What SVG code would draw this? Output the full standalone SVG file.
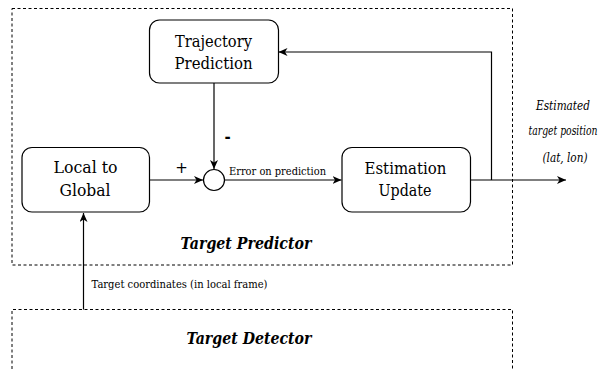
<svg xmlns="http://www.w3.org/2000/svg" width="603" height="371" viewBox="0 0 603 371">
<defs>
<marker id="ah" markerWidth="10" markerHeight="8" refX="9" refY="4" orient="auto" markerUnits="userSpaceOnUse">
<path d="M0,0 L9,4 L0,8 L2.5,4 Z" fill="#000"/>
</marker>
</defs>
<style>
.dash{fill:none;stroke:#000;stroke-width:1;stroke-dasharray:3 2.5}
.box{fill:#fff;stroke:#000;stroke-width:1.2}
.lbl{font-family:'DejaVu Serif',serif;font-size:17.3px;fill:#000;text-anchor:middle}
.small{font-family:'DejaVu Serif',serif;font-size:11.4px;fill:#000}
.out{font-family:'DejaVu Serif',serif;font-size:12px;font-style:italic;fill:#000;text-anchor:middle}
.title{font-family:'DejaVu Serif',serif;font-size:17.5px;font-style:italic;font-weight:bold;fill:#000;text-anchor:middle}
.sign{font-family:'DejaVu Sans',sans-serif;font-size:15px;fill:#000;text-anchor:middle}
.ln{fill:none;stroke:#000;stroke-width:1.2}
</style>
<rect width="603" height="371" fill="#fff"/>
<g id="target-predictor">
<rect class="dash" x="12" y="8.5" width="500.5" height="256.5"/>
<text class="title" x="246" y="249" textLength="131" lengthAdjust="spacingAndGlyphs">Target Predictor</text>
</g>
<g id="target-detector">
<path class="dash" d="M12,380 L12,309.5 L512.5,309.5 L512.5,380"/>
<text class="title" x="249" y="344" textLength="125" lengthAdjust="spacingAndGlyphs">Target Detector</text>
</g>
<g id="connectors">
<path class="ln" d="M214,83 L214,169" marker-end="url(#ah)"/>
<path class="ln" d="M149,180 L203,180" marker-end="url(#ah)"/>
<path class="ln" d="M224.5,180 L341.5,180" marker-end="url(#ah)"/>
<path class="ln" d="M470,180 L566,180" marker-end="url(#ah)"/>
<path class="ln" d="M491.5,180 L491.5,52 L278.5,52" marker-end="url(#ah)"/>
<path class="ln" d="M83.5,309.5 L83.5,213" marker-end="url(#ah)"/>
<text class="sign" x="227.5" y="142" font-weight="bold">-</text>
<text class="sign" x="181.5" y="173">+</text>
<text class="small" x="229" y="175" textLength="97" lengthAdjust="spacingAndGlyphs">Error on prediction</text>
<text class="small" x="91.5" y="288" textLength="176" lengthAdjust="spacingAndGlyphs">Target coordinates (in local frame)</text>
<text class="out" x="563" y="110" textLength="54" lengthAdjust="spacingAndGlyphs">Estimated</text>
<text class="out" x="563" y="135" textLength="69" lengthAdjust="spacingAndGlyphs">target position</text>
<text class="out" x="565" y="162" textLength="45" lengthAdjust="spacingAndGlyphs">(lat, lon)</text>
</g>
<g id="sum">
<circle cx="214" cy="180" r="10.5" fill="#fff" stroke="#000" stroke-width="1.2"/>
</g>
<g id="trajectory-prediction">
<rect class="box" x="149.5" y="20" width="129" height="63" rx="10"/>
<text class="lbl" x="213.5" y="47" textLength="77" lengthAdjust="spacingAndGlyphs">Trajectory</text>
<text class="lbl" x="213.5" y="69" textLength="78" lengthAdjust="spacingAndGlyphs">Prediction</text>
</g>
<g id="local-to-global">
<rect class="box" x="22" y="147.5" width="127.5" height="64.5" rx="10"/>
<text class="lbl" x="85.5" y="173" textLength="64" lengthAdjust="spacingAndGlyphs">Local to</text>
<text class="lbl" x="85" y="196" textLength="51" lengthAdjust="spacingAndGlyphs">Global</text>
</g>
<g id="estimation-update">
<rect class="box" x="342" y="147.5" width="128.5" height="64.5" rx="10"/>
<text class="lbl" x="405.5" y="174" textLength="82" lengthAdjust="spacingAndGlyphs">Estimation</text>
<text class="lbl" x="405" y="196" textLength="53" lengthAdjust="spacingAndGlyphs">Update</text>
</g>
</svg>
